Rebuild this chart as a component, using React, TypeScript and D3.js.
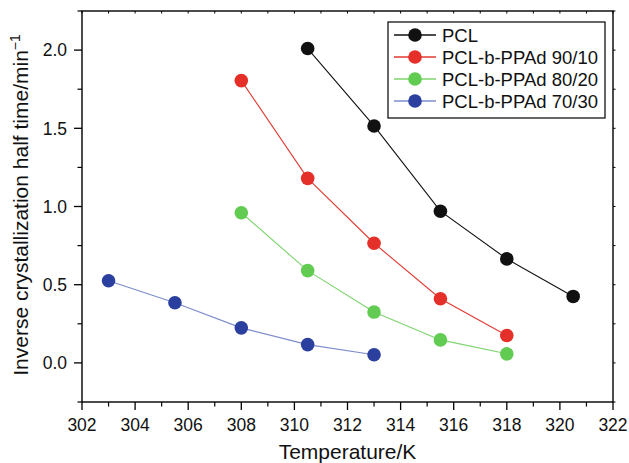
import React from "react";
import * as d3 from "d3";

const W = 629;
const H = 463;

const seriesNames = ["PCL", "PCL-b-PPAd 90/10", "PCL-b-PPAd 80/20", "PCL-b-PPAd 70/30"];
const pclT = [310.5, 313, 315.5, 318, 320.5];
const pclV = [2.01, 1.515, 0.97, 0.665, 0.425];
const r9010T = [308, 310.5, 313, 315.5, 318];
const r9010V = [1.805, 1.18, 0.765, 0.41, 0.175];
const r8020T = [308, 310.5, 313, 315.5, 318];
const r8020V = [0.96, 0.59, 0.325, 0.147, 0.058];
const r7030T = [303, 305.5, 308, 310.5, 313];
const r7030V = [0.525, 0.385, 0.224, 0.117, 0.052];

const xTicks = [302, 304, 306, 308, 310, 312, 314, 316, 318, 320, 322];
const yTicks = [0.0, 0.5, 1.0, 1.5, 2.0];

const markerColors = ["#111111", "#e5302a", "#62cc52", "#2b3f9f"];
const lineColors = ["#111111", "#e23a32", "#7ed46e", "#7d8ccc"];

const FONT = "'Liberation Sans', Arial, Helvetica, sans-serif";

export default function App() {
  const left = 82, right = 613, top = 11, bottom = 402;
  const x = d3.scaleLinear().domain([302, 322]).range([left, right]);
  const y = d3.scaleLinear().domain([-0.25, 2.25]).range([bottom, top]);

  const series = [
    { t: pclT, v: pclV },
    { t: r9010T, v: r9010V },
    { t: r8020T, v: r8020V },
    { t: r7030T, v: r7030V },
  ];

  const line = d3
    .line<[number, number]>()
    .x((d) => x(d[0]))
    .y((d) => y(d[1]));

  const xMinor = d3.range(302, 322.001, 1).filter((v) => !xTicks.includes(v));
  const yMinor = d3.range(-0.25, 2.2501, 0.25).filter(
    (v) => !yTicks.some((t) => Math.abs(t - v) < 1e-6)
  );
  const xAll = d3.range(302, 322.001, 1);
  const yAll = d3.range(-0.25, 2.2501, 0.25);

  const majLen = 8, minLen = 4.5;

  const legX = 388, legY = 22, legW = 217, legH = 96, rowH = 22;

  return (
    <svg
      width={W}
      height={H}
      style={{ position: "absolute", left: 0, top: 0, background: "#fff" }}
      fontFamily={FONT}
    >
      {/* frame */}
      <rect x={left} y={top} width={right - left} height={bottom - top} fill="none" stroke="#000" strokeWidth={1.4} />

      {/* bottom axis ticks and labels */}
      {xTicks.map((t) => (
        <g key={"xt" + t}>
          <line x1={x(t)} x2={x(t)} y1={bottom} y2={bottom + majLen} stroke="#000" strokeWidth={1.3} />
          <text x={x(t)} y={bottom + 29} textAnchor="middle" fontSize={17.5} fill="#111">
            {t}
          </text>
        </g>
      ))}
      {xMinor.map((t) => (
        <line key={"xm" + t} x1={x(t)} x2={x(t)} y1={bottom} y2={bottom + minLen} stroke="#000" strokeWidth={1.2} />
      ))}
      {/* top axis short ticks */}
      {xAll.map((t) => (
        <line key={"xtop" + t} x1={x(t)} x2={x(t)} y1={top} y2={top + 2.5} stroke="#000" strokeWidth={1} />
      ))}

      {/* left axis ticks and labels */}
      {yTicks.map((t) => (
        <g key={"yt" + t}>
          <line x1={left} x2={left - majLen} y1={y(t)} y2={y(t)} stroke="#000" strokeWidth={1.3} />
          <text x={left - 15} y={y(t) + 6.2} textAnchor="end" fontSize={17.5} fill="#111">
            {t.toFixed(1)}
          </text>
        </g>
      ))}
      {yMinor.map((t) => (
        <line key={"ym" + t} x1={left} x2={left - minLen} y1={y(t)} y2={y(t)} stroke="#000" strokeWidth={1.2} />
      ))}
      {/* right axis short ticks */}
      {yAll.map((t) => (
        <line key={"yr" + t} x1={right} x2={right + 2.5} y1={y(t)} y2={y(t)} stroke="#000" strokeWidth={1} />
      ))}

      {/* axis titles */}
      <text x={(left + right) / 2} y={459} textAnchor="middle" fontSize={21} fill="#111">
        Temperature/K
      </text>
      <text
        transform={`translate(28, 205) rotate(-90)`}
        textAnchor="middle"
        fontSize={21}
        fill="#111"
      >
        Inverse crystallization half time/min
        <tspan dy={-8} fontSize={14}>−1</tspan>
      </text>

      {/* series */}
      {series.map((s, i) => {
        const pts: [number, number][] = s.t.map((t, j) => [t, s.v[j]]);
        return (
          <g key={"s" + i}>
            <path d={line(pts) || ""} fill="none" stroke={lineColors[i]} strokeWidth={1.1} />
            {pts.map((p, j) => (
              <circle key={j} cx={x(p[0])} cy={y(p[1])} r={6.8} fill={markerColors[i]} />
            ))}
          </g>
        );
      })}

      {/* legend */}
      <rect x={legX} y={legY} width={legW} height={legH} fill="#fff" stroke="#000" strokeWidth={1.2} />
      {seriesNames.map((name, i) => {
        const cy = legY + 13 + i * rowH;
        return (
          <g key={"lg" + i}>
            <line x1={legX + 6} x2={legX + 48} y1={cy} y2={cy} stroke={lineColors[i]} strokeWidth={1.4} />
            <circle cx={legX + 27} cy={cy} r={6.8} fill={markerColors[i]} />
            <text x={legX + 54} y={cy + 6.5} fontSize={18.5} fill="#111">
              {name}
            </text>
          </g>
        );
      })}
    </svg>
  );
}
